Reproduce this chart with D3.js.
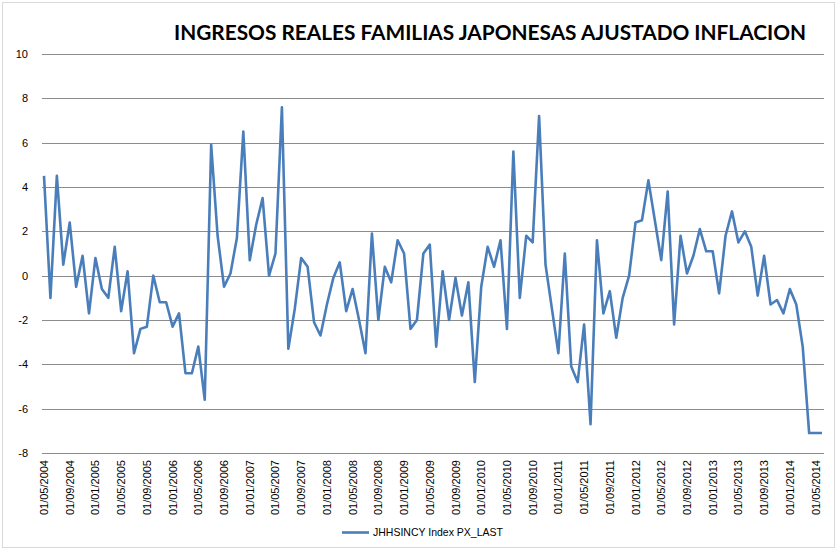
<!DOCTYPE html>
<html><head><meta charset="utf-8">
<script src="https://cdn.jsdelivr.net/npm/d3@7"></script>
<style>body{margin:0;background:#fff}svg{display:block}</style>
</head><body>
<svg id="c" width="837" height="549"></svg>
<script>
const title = "INGRESOS REALES FAMILIAS JAPONESAS AJUSTADO INFLACION";
const seriesName = "JHHSINCY Index PX_LAST";
const startYear = 2004, startMonth = 5;
const values = [
 4.5,-1.0,4.5,0.5,2.4,-0.5,0.9,-1.7,0.8,-0.6,-1.0,1.3,-1.6,0.2,-3.5,-2.4,-2.3,0.0,-1.2,-1.2,
 -2.3,-1.7,-4.4,-4.4,-3.2,-5.6,5.9,1.8,-0.5,0.1,1.7,6.5,0.7,2.3,3.5,0.0,1.0,7.6,-3.3,-1.5,
 0.8,0.4,-2.1,-2.7,-1.3,-0.1,0.6,-1.6,-0.6,-2.0,-3.5,1.9,-2.0,0.4,-0.3,1.6,1.0,-2.4,-2.0,1.0,
 1.4,-3.2,0.2,-2.0,-0.1,-1.8,-0.3,-4.8,-0.5,1.3,0.4,1.6,-2.4,5.6,-1.0,1.8,1.5,7.2,0.5,-1.5,
 -3.5,1.0,-4.1,-4.8,-2.2,-6.7,1.6,-1.7,-0.7,-2.8,-1.0,0.0,2.4,2.5,4.3,2.5,0.7,3.8,-2.2,1.8,
 0.1,0.9,2.1,1.1,1.1,-0.8,1.8,2.9,1.5,2.0,1.3,-0.9,0.9,-1.3,-1.1,-1.7,-0.6,-1.3,-3.2,-7.1,
 -7.1,-7.1
];
const yTicks = [10,8,6,4,2,0,-2,-4,-6,-8];
const tickEvery = 4;

const pad = n => String(n).padStart(2,"0");
const dates = values.map((v,i) => {
  const m0 = startMonth - 1 + i;
  const y = startYear + Math.floor(m0/12), m = m0 % 12 + 1;
  return "01/" + pad(m) + "/" + y;
});
const data = values.map((v,i)=>({d:dates[i], v}));

const svg = d3.select("#c");
svg.append("rect").attr("x",2.5).attr("y",2.5).attr("width",832).attr("height",545)
  .attr("fill","#fff").attr("stroke","#d9d9d9").attr("stroke-width",1);

const x = d3.scalePoint().domain(dates).range([44, 822]);
const y = d3.scaleLinear().domain([-8,10]).range([453, 54]);

const font = "'Liberation Sans', Arial, sans-serif";

// gridlines
const g = svg.append("g");
g.selectAll("line.grid").data(yTicks).join("line")
  .attr("x1",42).attr("x2",824)
  .attr("y1",d=>Math.round(y(d))+0.5).attr("y2",d=>Math.round(y(d))+0.5)
  .attr("stroke","#8c8c8c").attr("stroke-width",1);

// y labels
g.selectAll("text.yl").data(yTicks).join("text")
  .attr("x",28).attr("y",d=>y(d)+4)
  .attr("text-anchor","end").attr("font-family",font).attr("font-size",11)
  .attr("fill","#000").text(d=>d);

// x labels
const xt = dates.filter((d,i)=>i%tickEvery===0);
g.selectAll("text.xl").data(xt).join("text")
  .attr("transform",d=>`translate(${x(d)+4},460) rotate(-90)`)
  .attr("text-anchor","end").attr("font-family",font).attr("font-size",11)
  .attr("fill","#000").text(d=>d);

// line
const line = d3.line().x(d=>x(d.d)).y(d=>y(d.v));
svg.append("path").datum(data).attr("d",line)
  .attr("fill","none").attr("stroke","#4a7ebb").attr("stroke-width",2.6)
  .attr("stroke-linejoin","round");

// title
svg.append("text").attr("x",174).attr("y",40)
  .attr("font-family","Lato, 'Open Sans', sans-serif").attr("font-weight","bold")
  .attr("font-size",20).attr("textLength",632).attr("lengthAdjust","spacingAndGlyphs")
  .text(title);

// legend
svg.append("line").attr("x1",342).attr("x2",369).attr("y1",532.5).attr("y2",532.5)
  .attr("stroke","#4a7ebb").attr("stroke-width",2.6);
svg.append("text").attr("x",373).attr("y",536)
  .attr("font-family",font).attr("font-size",10.5).text(seriesName);
</script>
</body></html>
